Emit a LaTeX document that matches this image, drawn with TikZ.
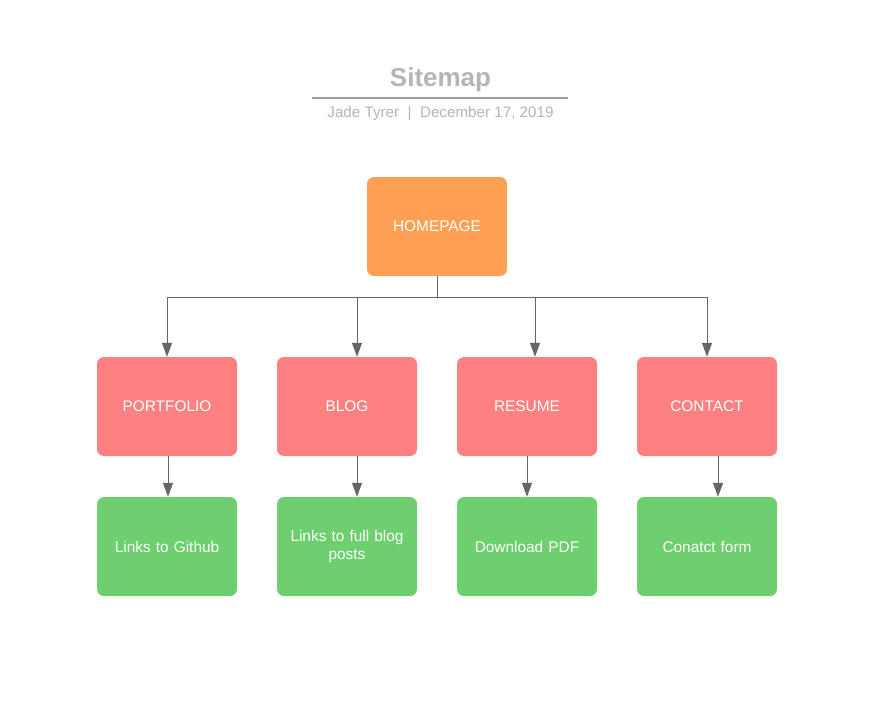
\documentclass[tikz,border=0pt]{standalone}
\usepackage{fontspec}
\setmainfont{Liberation Sans}
\usetikzlibrary{arrows.meta}
\definecolor{homeorange}{HTML}{FFA055}
\definecolor{pagered}{HTML}{FF8080}
\definecolor{subgreen}{HTML}{6DCF6D}
\definecolor{titlegray}{HTML}{B5B5B5}
\definecolor{linegray}{HTML}{666666}
\newcommand{\boxfont}{\fontsize{15.4}{18}\selectfont}

\begin{document}
\begin{tikzpicture}[x=1pt,y=-1pt,
    page/.style={rounded corners=7pt, minimum width=140pt, minimum height=99pt,
      text width=130pt, align=center, inner sep=0pt, text=white, font=\boxfont},
    link/.style={draw=linegray, line width=1pt, -{Triangle[width=10pt,length=14pt]}}]
      \useasboundingbox (0,0) rectangle (882,710);
          % title
      \node (title) at (440.5,86) [anchor=base, text=titlegray, font=\fontsize{26}{30}\selectfont\bfseries] {Sitemap};
      \node (sub) at (440.5,117) [anchor=base, text=titlegray, font=\fontsize{15.2}{18}\selectfont] {Jade Tyrer~~|~~December 17, 2019};
      \draw[titlegray!85!black, line width=1.6pt] (312,98) -- (568,98);
          % pages
      \node (home) at (437,226.5) [page, fill=homeorange] {HOMEPAGE};
      \foreach \n/\x/\t in {portfolio/167/PORTFOLIO, blog/347/BLOG, resume/527/RESUME, contact/707/CONTACT}
      {
        \node (\n) at (\x,406.5) [page, fill=pagered] {\t};
      }
      \foreach \n/\x/\t in {github/167/Links to Github, posts/347/{Links to full blog\\posts}, pdf/527/Download PDF, form/707/Conatct form}
      {
        \node (\n) at (\x,546.5) [page, fill=subgreen] {\t};
      }
          % connectors
      \coordinate (bus) at (437,297);
      \draw[draw=linegray, line width=1pt] (home) -- (bus);
      \foreach \n/\s in {portfolio/0, blog/10, resume/8, contact/0}
      {
        \draw[link] (bus) -| ([xshift=\s]\n.north);
      }
      \foreach \a/\b/\s in {portfolio/github/1, blog/posts/10, resume/pdf/0, contact/form/11}
      {
        \draw[link] ([xshift=\s]\a.south) -- ([xshift=\s]\b.north);
      }
\end{tikzpicture}
\end{document}
